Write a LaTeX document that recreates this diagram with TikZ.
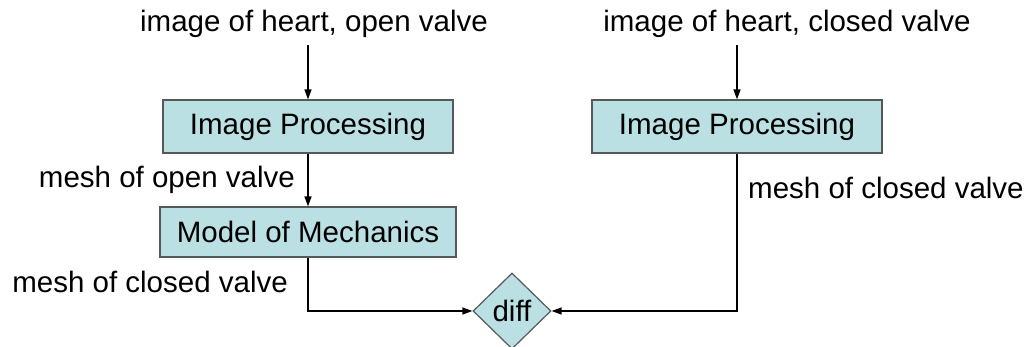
\documentclass[tikz,border=0pt]{standalone}
\usepackage{fontspec}
\setmainfont{Liberation Sans}
\usetikzlibrary{shapes.geometric,arrows.meta}
\definecolor{boxfill}{HTML}{BBE0E3}
\definecolor{boxline}{HTML}{55595A}
\tikzset{
  procbox/.style={draw=boxline, fill=boxfill, line width=1.2pt, rectangle, inner sep=0pt, font=\fontsize{29.5}{32}\selectfont},
  lbl/.style={inner sep=0pt, font=\fontsize{29.5}{32}\selectfont},
  conn/.style={line width=1.5pt, -{Triangle[length=10pt,width=7pt]}},
}
\begin{document}
\begin{tikzpicture}[x=1pt,y=-1pt]
\useasboundingbox (0,0) rectangle (1030,347);
\fill[white] (0,0) rectangle (1030,347);
\node[lbl, anchor=base] (t1) at (314,32) {image of heart, open valve};
\node[lbl, anchor=base] (t2) at (787,32) {image of heart, closed valve};
\coordinate (s1) at (308,45);
\coordinate (s2) at (737,45);
\node[procbox, minimum width=290pt, minimum height=53pt] (ip1) at (308,126.5) {Image Processing};
\node[procbox, minimum width=290pt, minimum height=53pt] (ip2) at (737,126.5) {Image Processing};
\node[procbox, minimum width=296pt, minimum height=50pt] (mm) at (308,232) {Model of Mechanics};
\node[procbox, diamond, minimum width=78pt, minimum height=76pt, aspect=1.03] (diff) at (512,311) {diff};
\node[lbl, anchor=base east] (l1) at (295,188) {mesh of open valve};
\node[lbl, anchor=base east] (l2) at (288,292) {mesh of closed valve};
\node[lbl, anchor=base west] (l3) at (748,199) {mesh of closed valve};
\draw[conn] (s1) -- (ip1.north);
\draw[conn] (s2) -- (ip2.north);
\draw[conn] (ip1.south) -- (mm.north);
\draw[conn] (mm.south) |- (diff.west);
\draw[conn] (ip2.south) |- (diff.east);
\end{tikzpicture}
\end{document}
